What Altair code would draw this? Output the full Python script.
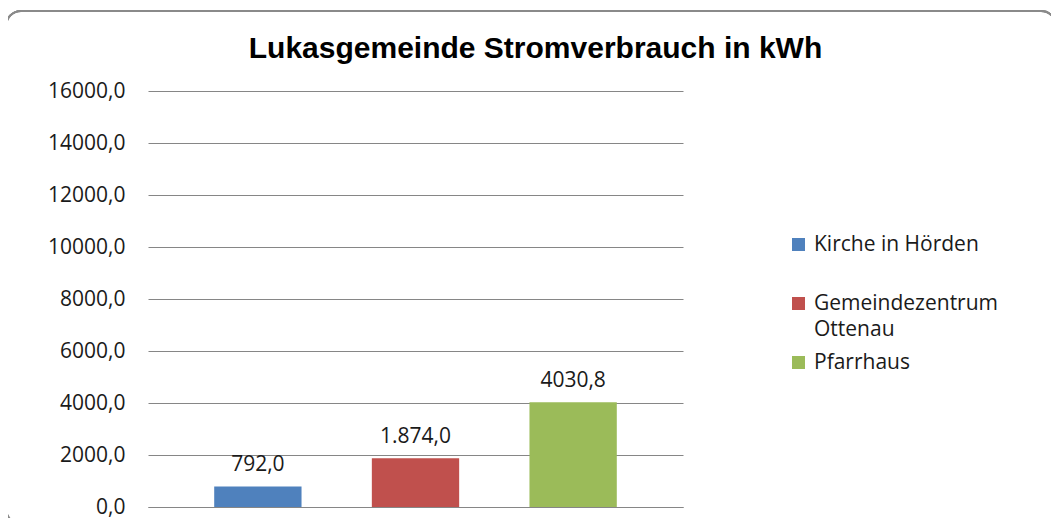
import altair as alt
import pandas as pd

series = ["Kirche in Hörden", "Gemeindezentrum Ottenau", "Pfarrhaus"]
values = [792.0, 1874.0, 4030.8]
value_labels = ["792,0", "1.874,0", "4030,8"]
colors = ["#4F81BD", "#C0504D", "#9BBB59"]
tick_values = [0, 2000, 4000, 6000, 8000, 10000, 12000, 14000, 16000]

df = pd.DataFrame({"series": series, "value": values, "label": value_labels})

x_enc = alt.X(
    "series:N",
    sort=series,
    scale=alt.Scale(paddingInner=0.446, paddingOuter=0.42),
    axis=alt.Axis(labels=False, ticks=False, title=None, domain=True,
                  domainColor="#868686", domainWidth=1, grid=False),
)
y_enc = alt.Y(
    "value:Q",
    scale=alt.Scale(domain=[0, 16000], nice=False),
    axis=alt.Axis(values=tick_values, title=None, domain=False, ticks=False,
                  grid=True, gridColor="#868686", gridWidth=1,
                  labelExpr="replace(format(datum.value, '.1f'), '.', ',')",
                  labelPadding=23, labelFontSize=21, labelFont="Open Sans",
                  labelColor="#1a1a1a"),
)

bars = alt.Chart(df).mark_bar().encode(
    x=x_enc,
    y=y_enc,
    color=alt.Color(
        "series:N",
        sort=series,
        scale=alt.Scale(domain=series, range=colors),
        legend=alt.Legend(
            title=None, orient="none", legendX=640, legendY=143,
            symbolType="square", symbolSize=169, symbolStrokeWidth=0,
            labelFont="Open Sans", labelFontSize=21, labelColor="#1a1a1a",
            labelOffset=5, rowPadding=11, padding=0, labelLimit=400,
            labelExpr="datum.label == 'Gemeindezentrum Ottenau' ? ['Gemeindezentrum', 'Ottenau'] : [datum.label, ' ']",
        ),
    ),
)

texts = alt.Chart(df).mark_text(
    baseline="alphabetic", dy=-15, font="Open Sans", fontSize=21, color="#1a1a1a"
).encode(x=alt.X("series:N", sort=series), y="value:Q", text="label:N")

frame = alt.Chart(df).mark_rect(
    fill=None, stroke="#8a8a8a", strokeWidth=2, cornerRadius=15
).encode(
    x=alt.value(-142), x2=alt.value(908), y=alt.value(-80), y2=alt.value(433)
)

chart = alt.layer(frame, bars, texts).properties(
    width=535,
    height=416,
    padding={"left": 140, "top": 83, "right": 368, "bottom": 11},
    autosize=alt.AutoSizeParams(type="none"),
    title=alt.TitleParams(
        "Lukasgemeinde Stromverbrauch in kWh",
        font="Liberation Sans", fontSize=30, fontWeight="bold", color="#000000",
        anchor="middle", dx=120, offset=-54,
    ),
).configure(
    view={"stroke": None},
    style={"guide-label": {"lineHeight": 26}},
)

chart.save("out.html", embed_options={"renderer": "svg", "actions": False})
